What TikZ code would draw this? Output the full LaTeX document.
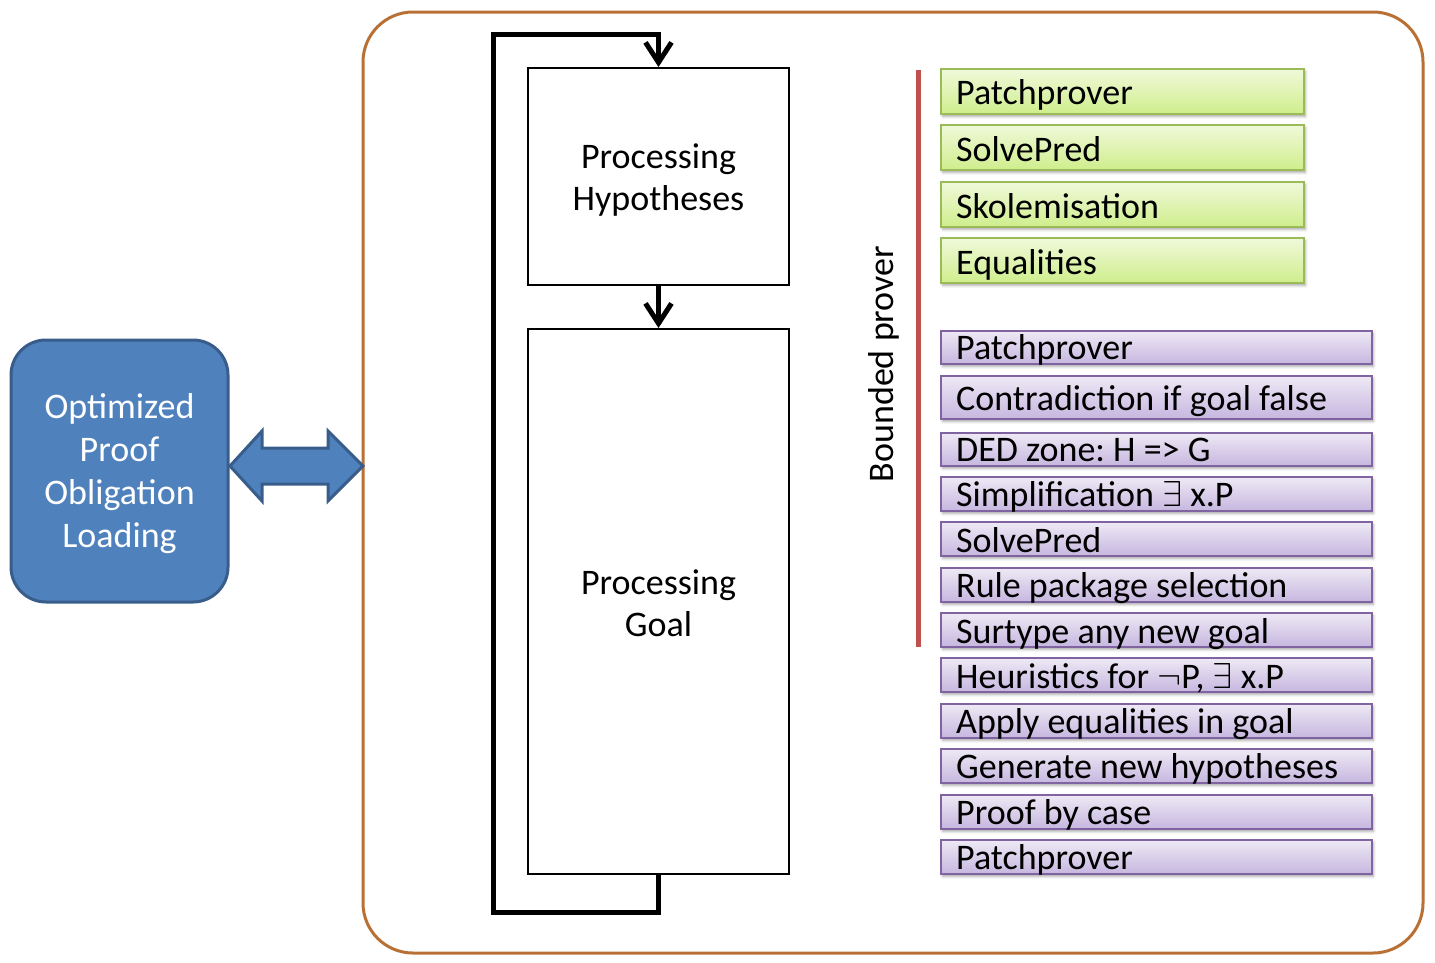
\documentclass[tikz,border=0pt]{standalone}
\usepackage{fontspec}
\setmainfont{Carlito}
\frenchspacing
\usetikzlibrary{arrows.meta,shadows.blur}
\newcommand{\bigsym}[1]{{\fontsize{10}{12}\selectfont\scalebox{3.6}{$#1$}}}
\definecolor{outerc}{HTML}{B97034}
\definecolor{polofill}{HTML}{4F81BD}
\definecolor{polodraw}{HTML}{385D8A}
\definecolor{gtop}{HTML}{F0F9DA}
\definecolor{gbot}{HTML}{CFEE8C}
\definecolor{gdraw}{HTML}{9BBB59}
\definecolor{ptop}{HTML}{EEE9F5}
\definecolor{pbot}{HTML}{C6B6DF}
\definecolor{pdraw}{HTML}{8064A2}
\definecolor{redline}{HTML}{C0504D}
\begin{document}
\begin{tikzpicture}[x=1pt,y=-1pt,
  font=\fontsize{36}{43}\selectfont\frenchspacing,
  procbox/.style={draw=black, line width=2pt, minimum width=261pt, align=center, inner sep=0pt},
  flow/.style={line width=5pt, -{Straight Barb[length=20pt,width=26pt]}},
  softshadow/.style={blur shadow={shadow xshift=1.5pt, shadow yshift=-2.5pt, shadow blur radius=2.5pt, shadow opacity=35}},
  gbox/.style={draw=gdraw, line width=2.5pt, top color=gtop, bottom color=gbot, minimum width=363pt, inner sep=0pt, softshadow},
  pbox/.style={draw=pdraw, line width=2.5pt, top color=ptop, bottom color=pbot, minimum width=431pt, inner sep=0pt, softshadow},
  itemtext/.style={anchor=base west, inner sep=0pt},
  polo/.style={draw=polodraw, fill=polofill, line width=3pt, rounded corners=35pt, minimum width=217pt, minimum height=262pt, text=white, align=center, inner sep=0pt},
  outerbox/.style={draw=outerc, line width=3pt, rounded corners=50pt, minimum width=1060pt, minimum height=941pt, inner sep=0pt},
  dblarrow/.style={draw=polodraw, fill=polofill, line width=3pt, line join=miter}
]
\useasboundingbox (0,0) rectangle (1435,962);

% outer frame
\node[outerbox] (outer) at (893,482.5) {};

% left box
\node[polo] (polo) at (119.5,471) {\rule{0pt}{31pt}Optimized\\Proof\\Obligation\\Loading};
\coordinate (polotip) at (230,466);
\coordinate (outertip) at (363,466);

% double arrow between left box and frame
\draw[dblarrow] (polotip) -- (262,431) -- (262,448) -- (328,448) -- (328,431)
  -- (outertip) -- (328,501) -- (328,484) -- (262,484) -- (262,501) -- cycle;

% processing boxes
\node[procbox, minimum height=217pt] (hyp) at (658.5,176.5) {\rule{0pt}{32pt}Processing\\[-1pt]Hypotheses};
\node[procbox, minimum height=545pt] (goal) at (658.5,601.5) {\rule{0pt}{28pt}Processing\\[-1pt]Goal};

\draw[flow] (hyp.south) -- (goal.north);
\draw[flow] (goal.south) -- ++(0,37) -| (493,34) -| (hyp.north);

% bounded prover
\draw[redline, line width=5pt] (918,70) -- (918,647);
\node[rotate=90, anchor=base, inner sep=0pt] (bp) at (893,364) {Bounded prover};

% green boxes
\node[gbox, minimum height=45pt] (g1) at (1122.5,91.5) {};
\node[gbox, minimum height=45pt] (g2) at (1122.5,147.5) {};
\node[gbox, minimum height=45pt] (g3) at (1122.5,204.5) {};
\node[gbox, minimum height=45pt] (g4) at (1122.5,260.5) {};
\node[itemtext] (tg1) at (956,104) {Patchprover};
\node[itemtext] (tg2) at (956,161) {SolvePred};
\node[itemtext] (tg3) at (956,218) {Skolemisation};
\node[itemtext] (tg4) at (956,274) {Equalities};

% purple boxes
\node[pbox, minimum height=33pt] (p1) at (1156.5,347.5) {};
\node[pbox, minimum height=43pt] (p2) at (1156.5,397.5) {};
\node[pbox, minimum height=33pt] (p3) at (1156.5,449.5) {};
\node[pbox, minimum height=34pt] (p4) at (1156.5,494) {};
\node[pbox, minimum height=34pt] (p5) at (1156.5,539) {};
\node[pbox, minimum height=34pt] (p6) at (1156.5,585) {};
\node[pbox, minimum height=34pt] (p7) at (1156.5,630) {};
\node[pbox, minimum height=34pt] (p8) at (1156.5,675) {};
\node[pbox, minimum height=34pt] (p9) at (1156.5,721) {};
\node[pbox, minimum height=34pt] (p10) at (1156.5,766) {};
\node[pbox, minimum height=34pt] (p11) at (1156.5,812) {};
\node[pbox, minimum height=34pt] (p12) at (1156.5,857) {};
\node[itemtext] (tp1) at (956,359) {Patchprover};
\node[itemtext] (tp2) at (956,410) {Contradiction if goal false};
\node[itemtext] (tp3) at (956,461) {DED zone: H => G};
\node[itemtext] (tp4) at (956,506) {Simplification \bigsym{\exists} x.P};
\node[itemtext] (tp5) at (956,552) {SolvePred};
\node[itemtext] (tp6) at (956,597) {Rule package selection};
\node[itemtext] (tp7) at (956,643) {Surtype any new goal};
\node[itemtext] (tp8) at (956,688) {Heuristics for \bigsym{\neg}P, \bigsym{\exists} x.P};
\node[itemtext] (tp9) at (956,733) {Apply equalities in goal};
\node[itemtext] (tp10) at (956,778) {Generate new hypotheses};
\node[itemtext] (tp11) at (956,824) {Proof by case};
\node[itemtext] (tp12) at (956,869) {Patchprover};
\end{tikzpicture}
\end{document}
